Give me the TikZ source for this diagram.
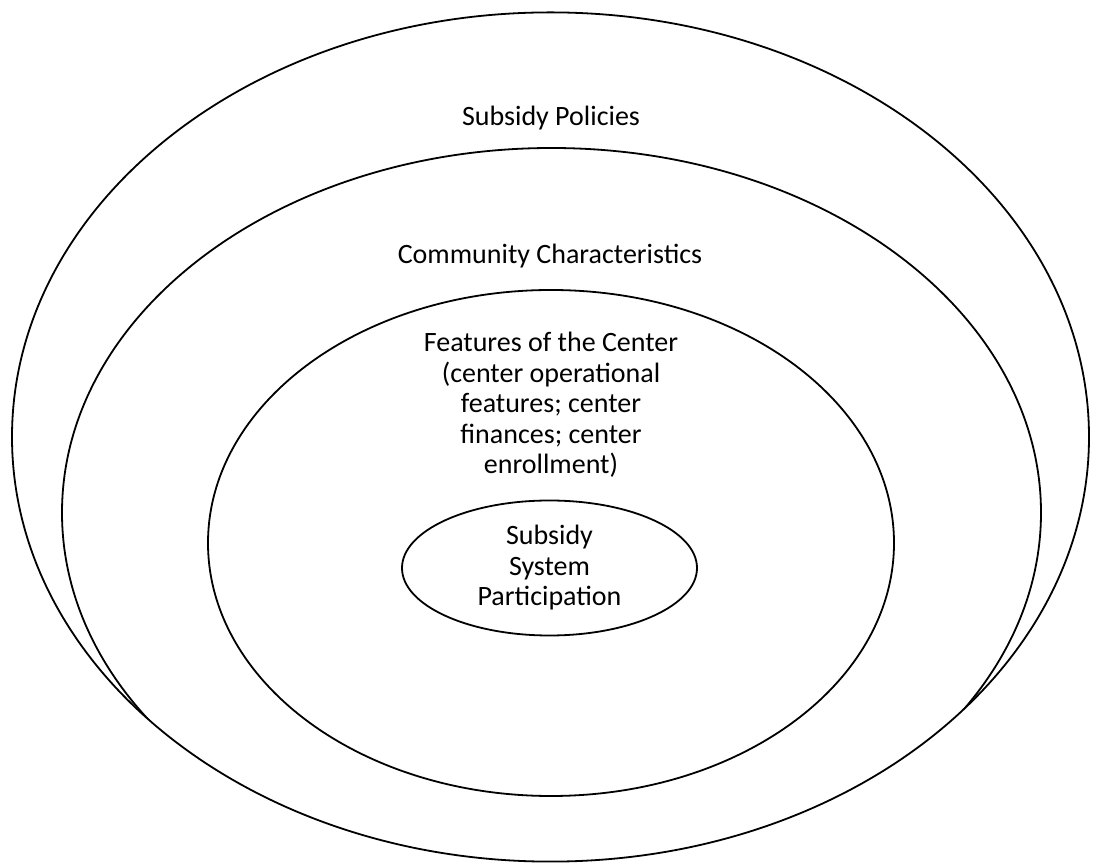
\documentclass[tikz,border=0pt]{standalone}
\usepackage{fontspec}
\setmainfont{Carlito}
\tikzset{
  anillo/.style={draw=black, line width=1.8pt},
  rotulo/.style={align=center, inner sep=0pt, font=\fontsize{28}{30.5}\selectfont}
}

\begin{document}
\begin{tikzpicture}[x=1pt, y=1pt]
    \useasboundingbox (0,0) rectangle (1093,865);

    % ELIPSES
    % Politicas de subsidio (exterior)
    \draw[anillo] (550.5,428) ellipse [x radius=538.5pt, y radius=424.6pt];

    % Caracteristicas de la comunidad (recortada por la exterior)
    \begin{scope}
        \clip (550.5,428) ellipse [x radius=538.5pt, y radius=424.6pt];
        \draw[anillo] (551.5,352.3) ellipse [x radius=489.5pt, y radius=364.7pt];
    \end{scope}

    % Rasgos del centro
    \draw[anillo] (551,322) ellipse [x radius=343pt, y radius=253pt];

    % Participacion (interior)
    \draw[anillo] (549.5,297) ellipse [x radius=147.5pt, y radius=67.5pt];

    % ETIQUETAS
    \node[rotulo] (politicas) at (551,747) {Subsidy Policies};
    \node[rotulo] (comunidad) at (550,609) {Community Characteristics};
    \node[rotulo] (centro) at (551,460) {Features of the Center\\(center operational\\features; center\\finances; center\\enrollment)};
    \node[rotulo] (participacion) at (549.5,297) {Subsidy\\System\\Participation};
\end{tikzpicture}
\end{document}
